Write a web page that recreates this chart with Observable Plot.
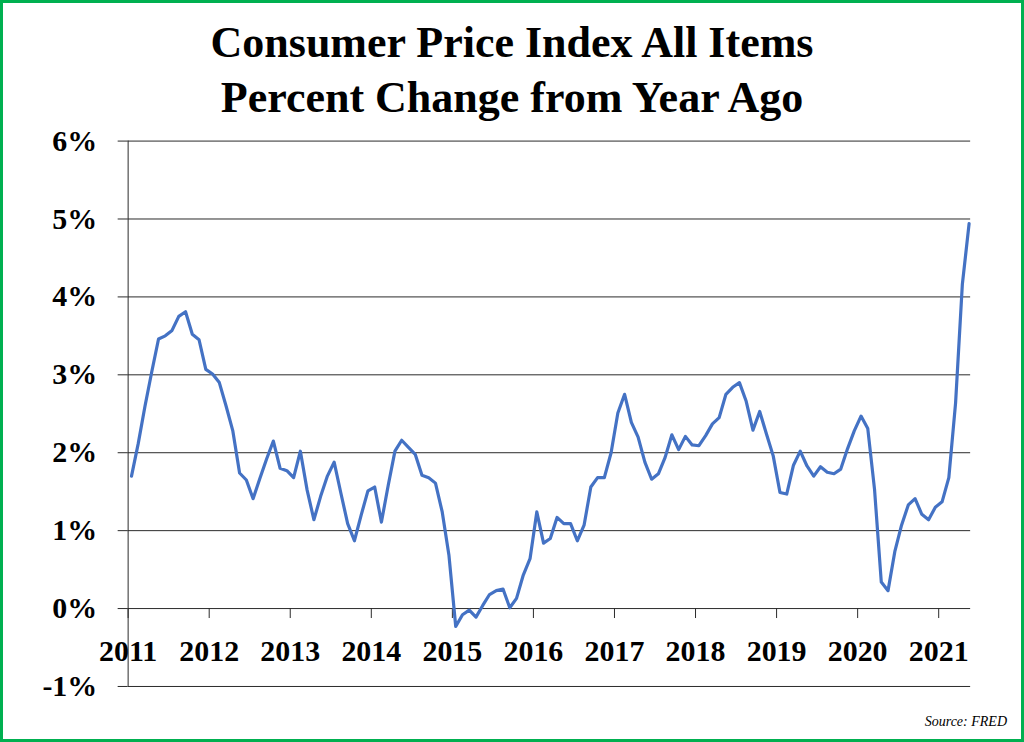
<!DOCTYPE html>
<html>
<head>
<meta charset="utf-8">
<script src="https://cdn.jsdelivr.net/npm/d3@7"></script>
<script src="https://cdn.jsdelivr.net/npm/@observablehq/plot@0.6"></script>
<style>
  html, body { margin: 0; padding: 0; background: #fff; }
  #frame {
    position: relative; width: 1024px; height: 742px; box-sizing: border-box;
    border: 3px solid #00B050; background: #fff; overflow: hidden;
  }
  #title {
    position: absolute; left: 0; top: 12px; width: 1018px; text-align: center;
    font-family: "Liberation Serif", serif; font-weight: bold; font-size: 44px; line-height: 55px; color: #000;
  }
  #chart { position: absolute; left: -3px; top: -3px; }
  #source {
    position: absolute; right: 14px; top: 711px;
    font-family: "Liberation Serif", serif; font-style: italic; font-size: 14px; color: #000;
  }
</style>
</head>
<body>
<div id="frame">
  <div id="title">Consumer Price Index All Items<br>Percent Change from Year Ago</div>
  <div id="chart"></div>
  <div id="source">Source: FRED</div>
</div>
<script>
// Monthly CPI (all items) percent change from a year ago, Jan 2011 – May 2021
const startYear = 2011;
const cpiYoY = [
  // 2011
  1.70, 2.12, 2.60, 3.04, 3.46, 3.50, 3.57, 3.75, 3.81, 3.52, 3.45, 3.07,
  // 2012
  3.01, 2.90, 2.60, 2.28, 1.74, 1.65, 1.41, 1.67, 1.92, 2.15, 1.80, 1.77,
  // 2013
  1.68, 2.02, 1.52, 1.14, 1.44, 1.70, 1.88, 1.48, 1.09, 0.87, 1.20, 1.51,
  // 2014
  1.56, 1.11, 1.58, 2.02, 2.16, 2.07, 1.98, 1.71, 1.68, 1.61, 1.24, 0.68,
  // 2015
  -0.23, -0.08, -0.02, -0.11, 0.04, 0.18, 0.23, 0.25, 0.01, 0.13, 0.43, 0.64,
  // 2016
  1.24, 0.84, 0.90, 1.17, 1.09, 1.09, 0.87, 1.07, 1.56, 1.68, 1.68, 2.00,
  // 2017
  2.51, 2.75, 2.39, 2.20, 1.88, 1.66, 1.73, 1.94, 2.23, 2.04, 2.21, 2.10,
  // 2018
  2.09, 2.22, 2.37, 2.45, 2.75, 2.84, 2.90, 2.66, 2.29, 2.53, 2.24, 1.96,
  // 2019
  1.49, 1.47, 1.84, 2.02, 1.83, 1.70, 1.82, 1.75, 1.73, 1.79, 2.05, 2.28,
  // 2020
  2.47, 2.31, 1.53, 0.34, 0.23, 0.73, 1.07, 1.33, 1.41, 1.21, 1.14, 1.30,
  // 2021
  1.37, 1.68, 2.64, 4.16, 4.94
];
const yearTicks = [2011, 2012, 2013, 2014, 2015, 2016, 2017, 2018, 2019, 2020, 2021];
const pctTicks = [-1, 0, 1, 2, 3, 4, 5, 6];

// table built from the arrays: mid-month position as decimal year
const rows = cpiYoY.map((v, i) => ({t: startYear + (i + 0.5) / 12, v}));

const fontFamily = "'Liberation Serif', serif";
const chart = Plot.plot({
  width: 1024,
  height: 742,
  marginLeft: 128,
  marginRight: 51,
  marginTop: 141,
  marginBottom: 54,
  style: {fontFamily, background: "transparent", overflow: "visible"},
  x: {domain: [2011, 2021.394], axis: null},
  y: {domain: [-1, 6], axis: null},
  marks: [
    Plot.ruleY(pctTicks, {stroke: "#2a2a2a", strokeWidth: 1}),
    Plot.ruleX([yearTicks[0]], {stroke: "#2a2a2a", strokeWidth: 1}),
    Plot.ruleX(yearTicks, {x: d => d, y1: 0, y2: 0, insetBottom: -10, stroke: "#2a2a2a", strokeWidth: 1}),
    Plot.axisY(pctTicks, {
      anchor: "left", label: null, tickSize: 10, tickPadding: 21, stroke: "#2a2a2a",
      tickFormat: d => `${d}%`, fontSize: 30, fontWeight: "bold", fill: "#000", fontFamily
    }),
    Plot.text(yearTicks, {
      x: d => d, y: 0, dy: 43, text: d => String(d),
      fontSize: 30, fontWeight: "bold", fill: "#000", fontFamily
    }),
    Plot.line(rows, {x: "t", y: "v", stroke: "#4472C4", strokeWidth: 3.2, strokeLinejoin: "round"})
  ]
});
document.getElementById("chart").appendChild(chart);
</script>
</body>
</html>
